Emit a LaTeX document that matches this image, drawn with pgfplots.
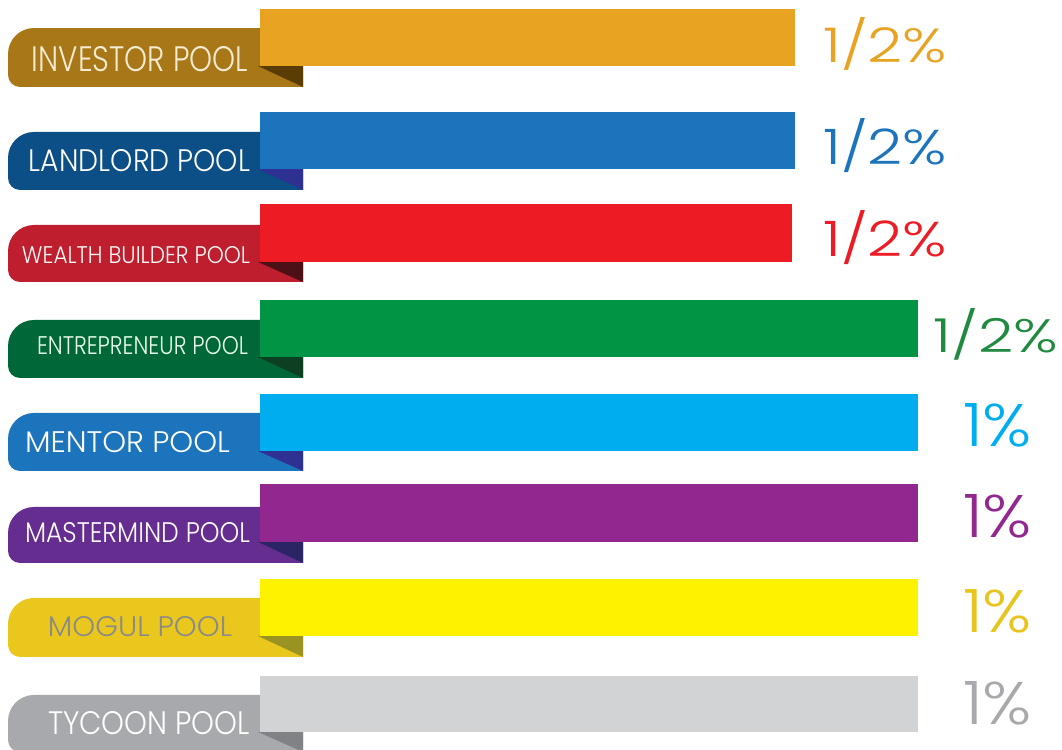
\documentclass[border=0pt]{standalone}
\usepackage{pgfplots}
\pgfplotsset{compat=1.18}
\usepackage{fontspec}
\usepackage{graphicx}
\IfFontExistsTF{Poppins Light}{\setmainfont{Poppins Light}}{\setmainfont{Poppins}}

\definecolor{invBar}{HTML}{E8A323}
\definecolor{invTab}{HTML}{A87818}
\definecolor{invFold}{HTML}{5A3D05}
\definecolor{invTxt}{HTML}{F5EBD2}
\definecolor{landBar}{HTML}{1C75BC}
\definecolor{landTab}{HTML}{0B4F86}
\definecolor{landFold}{HTML}{2E3192}
\definecolor{wealthBar}{HTML}{ED1C24}
\definecolor{wealthTab}{HTML}{BE1E2D}
\definecolor{wealthFold}{HTML}{4D1016}
\definecolor{entBar}{HTML}{009444}
\definecolor{entTab}{HTML}{006838}
\definecolor{entFold}{HTML}{0D3F22}
\definecolor{entVal}{HTML}{1F8A40}
\definecolor{menBar}{HTML}{00AEEF}
\definecolor{menTab}{HTML}{1C75BC}
\definecolor{menFold}{HTML}{2E3192}
\definecolor{masBar}{HTML}{92278F}
\definecolor{masTab}{HTML}{662D91}
\definecolor{masFold}{HTML}{2B2566}
\definecolor{mogBar}{HTML}{FFF200}
\definecolor{mogTab}{HTML}{EAC71C}
\definecolor{mogFold}{HTML}{9B9321}
\definecolor{mogTxt}{HTML}{8A8A8A}
\definecolor{mogVal}{HTML}{E9C41E}
\definecolor{tycBar}{HTML}{D1D3D4}
\definecolor{tycTab}{HTML}{A7A9AC}
\definecolor{tycFold}{HTML}{808285}

% tab: #1 colour, #2 top, #3 bottom, #4 fold colour, #5 bar bottom
\newcommand{\tab}[5]{%
  \fill[#1] (axis cs:43,#2) -- (axis cs:-226,#2)
    arc[start angle=90,end angle=180,radius=26pt]
    -- (axis cs:-252,#3-12)
    arc[start angle=180,end angle=270,radius=12pt]
    -- (axis cs:43,#3) -- cycle;
  \fill[#4] (axis cs:-2,#5) -- (axis cs:43,#5) -- (axis cs:43,#3) -- cycle;
}

\begin{document}
\begin{tikzpicture}
\begin{axis}[
  name=ax, scale only axis, width=1062pt, height=750pt,
  xmin=-260, xmax=802, ymin=0, ymax=750, y dir=reverse,
  hide axis, clip=false,
]
% label tabs and folds
\tab{invTab}{28}{87}{invFold}{66}
\tab{landTab}{132}{190}{landFold}{169}
\tab{wealthTab}{225}{282}{wealthFold}{262}
\tab{entTab}{320}{378}{entFold}{357}
\tab{menTab}{413}{471}{menFold}{451}
\tab{masTab}{507}{563}{masFold}{542}
\tab{mogTab}{598}{657}{mogFold}{636}
\tab{tycTab}{695}{752}{tycFold}{732}

% bars
\addplot[xbar, bar shift=0pt, bar width=57, fill=invBar, draw=none] coordinates {(535,37.5)};
\addplot[xbar, bar shift=0pt, bar width=57, fill=landBar, draw=none] coordinates {(535,140.5)};
\addplot[xbar, bar shift=0pt, bar width=58, fill=wealthBar, draw=none] coordinates {(532,233)};
\addplot[xbar, bar shift=0pt, bar width=57, fill=entBar, draw=none] coordinates {(658,328.5)};
\addplot[xbar, bar shift=0pt, bar width=57, fill=menBar, draw=none] coordinates {(658,422.5)};
\addplot[xbar, bar shift=0pt, bar width=58, fill=masBar, draw=none] coordinates {(658,513)};
\addplot[xbar, bar shift=0pt, bar width=57, fill=mogBar, draw=none] coordinates {(658,607.5)};
\addplot[xbar, bar shift=0pt, bar width=56, fill=tycBar, draw=none] coordinates {(658,704)};

% tab labels
\node[inner sep=0, text=invTxt] at (axis cs:-120,59.5) {\resizebox{216pt}{25pt}{INVESTOR POOL}};
\node[inner sep=0, text=white] at (axis cs:-120.5,161) {\resizebox{221pt}{22pt}{LANDLORD POOL}};
\node[inner sep=0, text=white!92!pink] at (axis cs:-124,255) {\resizebox{228pt}{17pt}{WEALTH BUILDER POOL}};
\node[inner sep=0, text=white!92!green] at (axis cs:-117.5,346) {\resizebox{211pt}{18pt}{ENTREPRENEUR POOL}};
\node[inner sep=0, text=white] at (axis cs:-132.5,442.5) {\resizebox{205pt}{21pt}{MENTOR POOL}};
\node[inner sep=0, text=white] at (axis cs:-122.5,533) {\resizebox{225pt}{20pt}{MASTERMIND POOL}};
\node[inner sep=0, text=mogTxt] at (axis cs:-120,627) {\resizebox{184pt}{20pt}{MOGUL POOL}};
\node[inner sep=0, text=white] at (axis cs:-111,723.5) {\resizebox{202pt}{23pt}{TYCOON POOL}};

% values
\node[inner sep=0, anchor=base west, text=invBar] at (axis cs:563,63) {\resizebox{124pt}{45pt}{1/2\%}};
\node[inner sep=0, anchor=base west, text=landBar] at (axis cs:563,165) {\resizebox{124pt}{46pt}{1/2\%}};
\node[inner sep=0, anchor=base west, text=wealthBar] at (axis cs:563,257) {\resizebox{124pt}{46pt}{1/2\%}};
\node[inner sep=0, anchor=base west, text=entVal] at (axis cs:673,353) {\resizebox{125pt}{44pt}{1/2\%}};
\node[inner sep=0, anchor=base west, text=menBar] at (axis cs:703,447) {\resizebox{69pt}{43pt}{1\%}};
\node[inner sep=0, anchor=base west, text=masBar] at (axis cs:703,538) {\resizebox{69pt}{43pt}{1\%}};
\node[inner sep=0, anchor=base west, text=mogVal] at (axis cs:703,633) {\resizebox{69pt}{43pt}{1\%}};
\node[inner sep=0, anchor=base west, text=tycTab] at (axis cs:703,725) {\resizebox{69pt}{43pt}{1\%}};
\end{axis}
\pgfresetboundingbox
\path (ax.south west) rectangle (ax.north east);
\end{tikzpicture}
\end{document}
